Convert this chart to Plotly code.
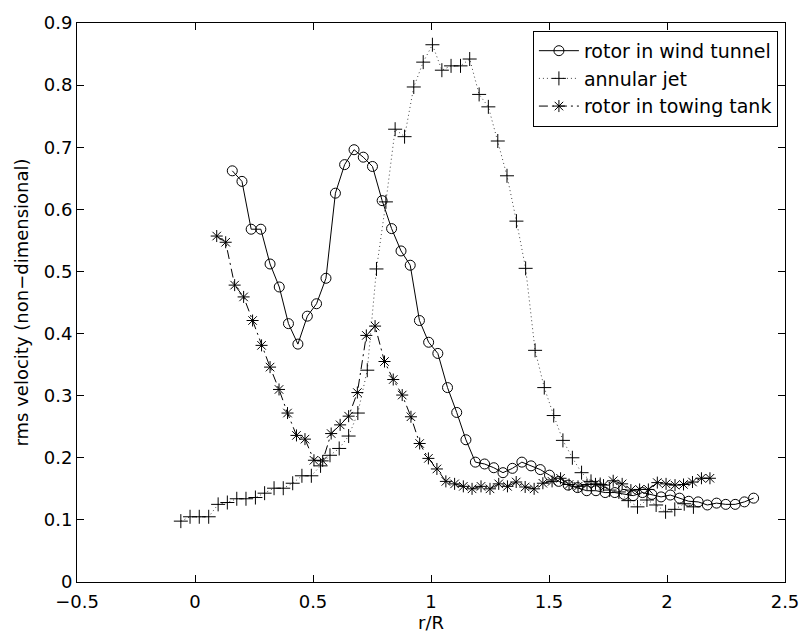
import plotly.graph_objects as go

# rotor in wind tunnel
wt_x = [0.158,0.199,0.238,0.279,0.318,0.357,0.396,0.436,0.476,0.515,0.555,0.595,0.634,0.674,0.713,0.752,
        0.793,0.833,0.873,0.912,0.951,0.990,1.029,1.070,1.109,1.148,1.188,1.227,1.266,1.305,1.345,1.385,
        1.424,1.463,1.502,1.541,1.581,1.621,1.660,1.699,1.738,1.779,1.818,1.857,1.896,1.936,1.975,2.014,
        2.053,2.092,2.132,2.171,2.210,2.249,2.289,2.328,2.367]
wt_y = [0.662,0.645,0.568,0.568,0.512,0.475,0.416,0.383,0.428,0.448,0.489,0.626,0.672,0.696,0.684,0.669,
        0.614,0.569,0.533,0.510,0.421,0.386,0.368,0.313,0.273,0.229,0.193,0.190,0.184,0.176,0.183,0.193,
        0.187,0.181,0.172,0.162,0.156,0.152,0.147,0.147,0.144,0.144,0.141,0.139,0.144,0.141,0.137,0.140,
        0.135,0.130,0.129,0.124,0.127,0.125,0.125,0.129,0.135]

# annular jet
aj_x = [-0.060,-0.021,0.018,0.058,0.098,0.137,0.177,0.216,0.256,0.295,0.335,0.374,0.414,0.453,0.493,
        0.532,0.572,0.611,0.651,0.690,0.730,0.769,0.809,0.848,0.888,0.927,0.967,1.006,1.046,1.085,
        1.125,1.164,1.204,1.243,1.283,1.322,1.362,1.401,1.441,1.480,1.520,1.559,1.599,1.638,1.678,
        1.717,1.757,1.796,1.836,1.875,1.915,1.954,1.994,2.033,2.073,2.112]
aj_y = [0.098,0.105,0.105,0.105,0.125,0.128,0.134,0.134,0.136,0.143,0.151,0.151,0.159,0.171,0.171,
        0.187,0.204,0.215,0.235,0.272,0.341,0.504,0.612,0.729,0.717,0.797,0.837,0.865,0.824,0.831,
        0.831,0.842,0.785,0.765,0.710,0.654,0.581,0.505,0.373,0.313,0.268,0.228,0.200,0.176,0.162,
        0.157,0.148,0.145,0.131,0.121,0.132,0.124,0.113,0.117,0.126,0.121]

# rotor in towing tank
tt_x = [0.092,0.130,0.168,0.206,0.244,0.282,0.318,0.356,0.392,0.430,0.466,0.504,0.541,0.577,0.615,
        0.651,0.688,0.726,0.763,0.803,0.840,0.878,0.915,0.952,0.989,1.025,1.063,1.100,1.137,1.174,
        1.212,1.250,1.287,1.324,1.361,1.399,1.437,1.474,1.513,1.549,1.585,1.623,1.661,1.697,1.731,
        1.772,1.810,1.847,1.884,1.921,1.959,1.996,2.034,2.070,2.108,2.146,2.182]
tt_y = [0.557,0.547,0.478,0.459,0.421,0.381,0.346,0.310,0.272,0.236,0.230,0.196,0.195,0.239,0.253,
        0.267,0.305,0.397,0.412,0.355,0.326,0.301,0.266,0.223,0.199,0.182,0.162,0.158,0.154,0.150,
        0.154,0.150,0.158,0.154,0.161,0.153,0.150,0.159,0.162,0.167,0.157,0.154,0.157,0.158,0.156,
        0.163,0.158,0.148,0.149,0.149,0.160,0.158,0.156,0.157,0.161,0.167,0.167]

x_ticks = [-0.5, 0, 0.5, 1, 1.5, 2, 2.5]
x_tick_text = ["\u22120.5", "0", "0.5", "1", "1.5", "2", "2.5"]
y_ticks = [0, 0.1, 0.2, 0.3, 0.4, 0.5, 0.6, 0.7, 0.8, 0.9]
y_tick_text = ["0", "0.1", "0.2", "0.3", "0.4", "0.5", "0.6", "0.7", "0.8", "0.9"]

FONT = "DejaVu Sans, Liberation Sans, Arial, sans-serif"

fig = go.Figure()
fig.add_trace(go.Scatter(
    x=wt_x, y=wt_y, mode="lines+markers", name="rotor in wind tunnel",
    line=dict(color="black", width=1, dash="solid"),
    marker=dict(symbol="circle-open", size=10, color="black", line=dict(width=1, color="black")),
))
fig.add_trace(go.Scatter(
    x=aj_x, y=aj_y, mode="lines+markers", name="annular jet",
    line=dict(color="#444444", width=1, dash="1px,3px"),
    marker=dict(symbol="cross-thin-open", size=10, color="black", line=dict(width=1, color="black")),
))
fig.add_trace(go.Scatter(
    x=tt_x, y=tt_y, mode="lines+markers", name="rotor in towing tank",
    line=dict(color="black", width=1, dash="9px,4px,2px,4px"),
    marker=dict(symbol="asterisk-open", size=10, color="black", line=dict(width=1, color="black")),
))

axis_common = dict(
    showline=True, linecolor="black", linewidth=1, mirror="ticks",
    ticks="inside", ticklen=7, tickwidth=1, tickcolor="black",
    showgrid=False, zeroline=False,
    tickfont=dict(family=FONT, size=18, color="black"),
)

fig.update_xaxes(
    range=[-0.5, 2.5], tickmode="array", tickvals=x_ticks, ticktext=x_tick_text,
    ticklabelstandoff=3,
    title=dict(text="r/R", font=dict(family=FONT, size=18, color="black"), standoff=0),
    **axis_common,
)
fig.update_yaxes(
    range=[0, 0.9], tickmode="array", tickvals=y_ticks, ticktext=y_tick_text,
    title=dict(text="rms velocity (non\u2212dimensional)", font=dict(family=FONT, size=18, color="black"), standoff=10),
    **axis_common,
)

fig.update_layout(
    width=811, height=636, autosize=False,
    margin=dict(l=77, r=20, t=21, b=48),
    paper_bgcolor="white", plot_bgcolor="white",
    font=dict(family=FONT, size=18, color="black"),
    showlegend=True,
    legend=dict(
        x=0.99, y=0.986, xanchor="right", yanchor="top",
        bordercolor="black", borderwidth=1, bgcolor="white",
        font=dict(family=FONT, size=19, color="black"),
        itemwidth=40, tracegroupgap=0,
    ),
)

fig.write_html("out.html", post_script="document.body.style.margin='0';",
               config={"displayModeBar": False})
